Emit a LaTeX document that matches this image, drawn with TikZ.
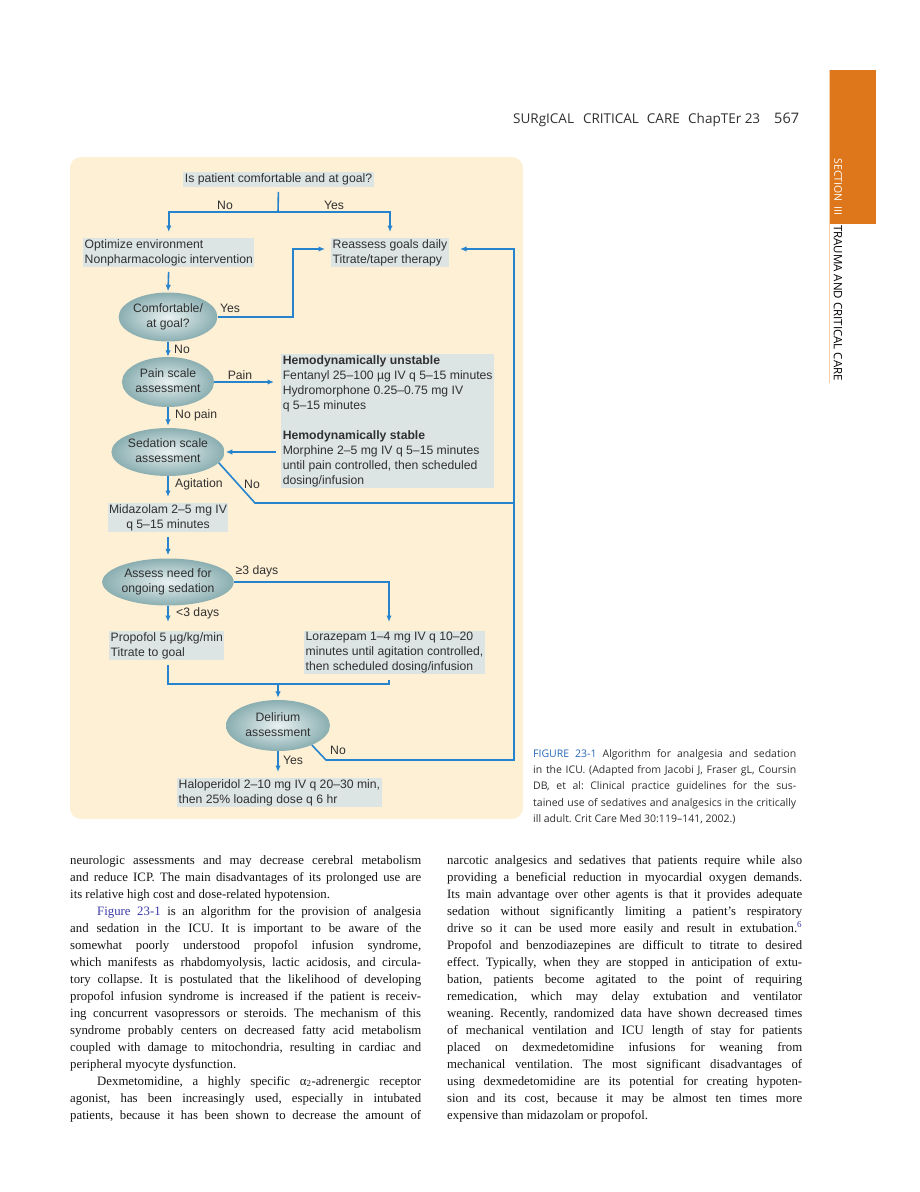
\documentclass[tikz,border=0pt]{standalone}
\usepackage{fontspec}
\setmainfont{Liberation Serif}
\newfontfamily\flowfont{Liberation Sans}
\newfontfamily\pagefont{Open Sans}
\usetikzlibrary{shapes.geometric,arrows.meta}
\frenchspacing

\definecolor{panelcream}{RGB}{254,240,213}
\definecolor{boxgray}{RGB}{221,228,228}
\definecolor{flowblue}{RGB}{38,131,205}
\definecolor{inkgray}{RGB}{48,48,48}
\definecolor{bodyink}{RGB}{20,20,20}
\definecolor{ovalin}{RGB}{234,242,242}
\definecolor{ovalout}{RGB}{138,174,177}
\definecolor{taborange}{RGB}{222,118,28}
\definecolor{tabline}{RGB}{248,206,170}
\definecolor{figblue}{RGB}{40,105,185}
\definecolor{linkblue}{RGB}{60,60,168}

\newcommand\flowsize{\flowfont\fontsize{12.2pt}{15pt}\selectfont}
\newcommand\ovaltext[1]{\smash{\raisebox{-3pt}{\begin{tabular}{@{}c@{}}#1\end{tabular}}}}
\newcommand\jline[1]{\hbox to\hsize{#1}}
\newcommand\eline[1]{\hbox to\hsize{#1\hfil}}

\tikzset{
  infobox/.style={fill=boxgray, text=inkgray, font=\flowsize, inner xsep=1.5pt, inner ysep=1pt, align=left},
  oval/.style={ellipse, inner color=ovalin, outer color=ovalout, text=inkgray, font=\flowsize, inner sep=0pt},
  flowline/.style={draw=flowblue, line width=1.6pt},
  flowarrow/.style={flowline, -{Latex[length=6.5pt,width=5.5pt]}},
  tag/.style={text=inkgray, font=\flowsize, inner sep=0pt},
  bodytext/.style={text=bodyink, inner sep=0pt, font=\fontsize{12.8pt}{17pt}\selectfont},
  pagetext/.style={inner sep=0pt, text=inkgray, font=\pagefont\fontsize{13.5pt}{16pt}\selectfont},
}

\begin{document}
\begin{tikzpicture}[x=1pt,y=-1pt]
	\useasboundingbox (0,0) rectangle (920,1192);
	\fill[white] (0,0) rectangle (920,1192);
	% running head and side tab
	\node[pagetext, anchor=base west] (headtitle) at (513,123) {SURgICAL\hspace{9pt}CRITICAL\hspace{8pt}CARE};
	\node[pagetext, anchor=base west] (headchap) at (688,123) {ChapTEr 23};
	\node[pagetext, anchor=base west, font=\pagefont\fontsize{14.5pt}{16pt}\selectfont] (headpage) at (774,123) {567};
	\fill[taborange] (829,70) rectangle (876,224);
	\draw[tabline, line width=1.5pt] (829.5,70) -- (829.5,383);
	\node[pagetext, text=white, rotate=-90, font=\pagefont\fontsize{10.5pt}{12pt}\selectfont] (tabsection) at (838,187) {SECTION\hspace{5pt}III};
	\node[pagetext, text=black, rotate=-90, font=\pagefont\fontsize{11.5pt}{12pt}\selectfont] (tabtrauma) at (838,303) {TRAUMA AND CRITICAL CARE};
	%
	\fill[panelcream, rounded corners=11pt] (70,157) rectangle (523,819);
	%
	\node[infobox, inner ysep=1.5pt] (question) at (278.5,179.5) {Is patient comfortable and at goal?};
	\node[infobox, anchor=north west] (optimize) at (83,238) {Optimize environment\\Nonpharmacologic intervention};
	\node[infobox, anchor=north west] (reassess) at (331,238) {Reassess goals daily\\Titrate/taper therapy};
	\node[oval, minimum width=90pt, minimum height=49pt] (comf) at (168,317) {\ovaltext{Comfortable/\\at goal?}};
	\node[oval, minimum width=90pt, minimum height=50pt] (pain) at (168,382) {\ovaltext{Pain scale\\assessment}};
	\node[infobox, anchor=north west, minimum width=213pt] (hemo) at (281,354) {\textbf{Hemodynamically unstable}\\Fentanyl 25–100 µg IV q 5–15 minutes\\Hydromorphone 0.25–0.75 mg IV\\q 5–15 minutes\\[15pt]\textbf{Hemodynamically stable}\\Morphine 2–5 mg IV q 5–15 minutes\\until pain controlled, then scheduled\\dosing/infusion};
	\node[oval, minimum width=106pt, minimum height=48pt] (sed) at (168,452) {\ovaltext{Sedation scale\\assessment}};
	\node[infobox, anchor=north, align=center] (midaz) at (168,503) {Midazolam 2–5 mg IV\\q 5–15 minutes};
	\node[oval, minimum width=116pt, minimum height=47pt] (assess) at (168,582) {\ovaltext{Assess need for\\ongoing sedation}};
	\node[infobox, anchor=north west] (propofol) at (109,631) {Propofol 5 µg/kg/min\\Titrate to goal};
	\node[infobox, anchor=north west] (loraz) at (304,631) {Lorazepam 1–4 mg IV q 10–20\\minutes until agitation controlled,\\then scheduled dosing/infusion};
	\node[oval, minimum width=104pt, minimum height=51pt] (delir) at (278,725.5) {\ovaltext{Delirium\\assessment}};
	\node[infobox, anchor=north west] (halop) at (177,778) {Haloperidol 2–10 mg IV q 20–30 min,\\then 25\% loading dose q 6 hr};
	%
	\coordinate (split) at (278,212);
	\coordinate (yesturn) at (293,249);
	\coordinate (nodip) at (255,503);
	\coordinate (backtop) at (514,249);
	\coordinate (longturn) at (389,582);
	\coordinate (merge) at (278,684);
	\coordinate (nodip2) at (326,760);
	%
	\draw[flowline, shorten <=5pt] (question.south) -- (split);
	\draw[flowarrow, shorten >=6pt] (split) -| (optimize.north);
	\draw[flowarrow, shorten >=6pt] (split) -| (reassess.north);
	\draw[flowarrow, shorten <=5pt, shorten >=1pt] (optimize.south) -- (comf.north);
	\draw[flowarrow, shorten >=6pt] (comf.east) -| (yesturn) -- (yesturn -| reassess.west);
	\draw[flowarrow] (comf.south) -- (pain.north);
	\draw[flowarrow, shorten >=7pt] (pain.east) -- (pain.east -| hemo.west);
	\draw[flowarrow, shorten >=2pt] (pain.south) -- (sed.north);
	\draw[flowarrow, shorten <=5pt, shorten >=1pt] (sed.east -| hemo.west) -- (sed.east);
	\draw[flowarrow, shorten >=6pt] (sed.south) -- (midaz.north);
	\draw[flowarrow, shorten >=11pt] (sed.-12) -- (nodip) -| (backtop) -- (backtop -| reassess.east);
	\draw[flowarrow, shorten <=5pt, shorten >=3pt] (midaz.south) -- (assess.north);
	\draw[flowarrow, shorten >=9pt] (assess.east) -- (longturn) -- (longturn |- loraz.north);
	\draw[flowarrow, shorten >=9pt] (assess.south) -- (assess.south |- propofol.north);
	\draw[flowline, shorten <=5pt] (propofol.south -| assess.south) |- (merge);
	\draw[flowline, shorten <=6pt] (loraz.south -| longturn) |- (merge);
	\draw[flowarrow, shorten >=2pt] (merge) -- (delir.north);
	\draw[flowline] (delir.-30) -- (nodip2) -| (nodip -| backtop);
	\draw[flowarrow, shorten >=6pt] (delir.south) -- (delir.south |- halop.north);
	%
	\node[tag] (tagno) at (225,205) {No};
	\node[tag] (tagyes) at (334,205) {Yes};
	\node[tag] (tagcomfyes) at (230,308) {Yes};
	\node[tag] (tagcomfno) at (182,349) {No};
	\node[tag] (tagpain) at (240,375) {Pain};
	\node[tag, anchor=west] (tagnopain) at (175,415) {No pain};
	\node[tag, anchor=west] (tagagit) at (175,484) {Agitation};
	\node[tag] (tagsedno) at (252,484) {No};
	\node[tag] (taglong) at (257,571) {≥3 days};
	\node[tag, anchor=west] (tagshort) at (176,613) {<3 days};
	\node[tag] (tagdelno) at (338,750) {No};
	\node[tag] (tagdelyes) at (293,760) {Yes};
	%
	\node[inner sep=0pt, anchor=north west, text=inkgray, font=\pagefont\fontsize{10.5pt}{16.3pt}\selectfont] (caption) at (533,749) {\vbox{\hsize=263pt
		\jline{\textcolor{figblue}{FIGURE 23-1} Algorithm for analgesia and sedation}
		\jline{in the ICU. (Adapted from Jacobi J, Fraser gL, Coursin}
		\jline{DB, et al: Clinical practice guidelines for the sus-}
		\jline{tained use of sedatives and analgesics in the critically}
		\eline{ill adult. Crit Care Med 30:119–141, 2002.)}}};
	%
	\node[bodytext, anchor=north west] (bodyleft) at (70,855) {\vbox{\hsize=351pt
		\jline{neurologic assessments and may decrease cerebral metabolism}
		\jline{and reduce ICP. The main disadvantages of its prolonged use are}
		\eline{its relative high cost and dose-related hypotension.}
		\jline{\hskip27pt\textcolor{linkblue}{Figure 23-1} is an algorithm for the provision of analgesia}
		\jline{and sedation in the ICU. It is important to be aware of the}
		\jline{somewhat poorly understood propofol infusion syndrome,}
		\jline{which manifests as rhabdomyolysis, lactic acidosis, and circula-}
		\jline{tory collapse. It is postulated that the likelihood of developing}
		\jline{propofol infusion syndrome is increased if the patient is receiv-}
		\jline{ing concurrent vasopressors or steroids. The mechanism of this}
		\jline{syndrome probably centers on decreased fatty acid metabolism}
		\jline{coupled with damage to mitochondria, resulting in cardiac and}
		\eline{peripheral myocyte dysfunction.}
		\jline{\hskip27pt Dexmetomidine, a highly specific α\textsubscript{2}-adrenergic receptor}
		\jline{agonist, has been increasingly used, especially in intubated}
		\jline{patients, because it has been shown to decrease the amount of}}};
	\node[bodytext, anchor=north west] (bodyright) at (447,855) {\vbox{\hsize=355pt
		\jline{narcotic analgesics and sedatives that patients require while also}
		\jline{providing a beneficial reduction in myocardial oxygen demands.}
		\jline{Its main advantage over other agents is that it provides adequate}
		\jline{sedation without significantly limiting a patient’s respiratory}
		\jline{drive so it can be used more easily and result in extubation.\textsuperscript{\textcolor{linkblue}{6}}}
		\jline{Propofol and benzodiazepines are difficult to titrate to desired}
		\jline{effect. Typically, when they are stopped in anticipation of extu-}
		\jline{bation, patients become agitated to the point of requiring}
		\jline{remedication, which may delay extubation and ventilator}
		\jline{weaning. Recently, randomized data have shown decreased times}
		\jline{of mechanical ventilation and ICU length of stay for patients}
		\jline{placed on dexmedetomidine infusions for weaning from}
		\jline{mechanical ventilation. The most significant disadvantages of}
		\jline{using dexmedetomidine are its potential for creating hypoten-}
		\jline{sion and its cost, because it may be almost ten times more}
		\eline{expensive than midazolam or propofol.}}};
\end{tikzpicture}
\end{document}
